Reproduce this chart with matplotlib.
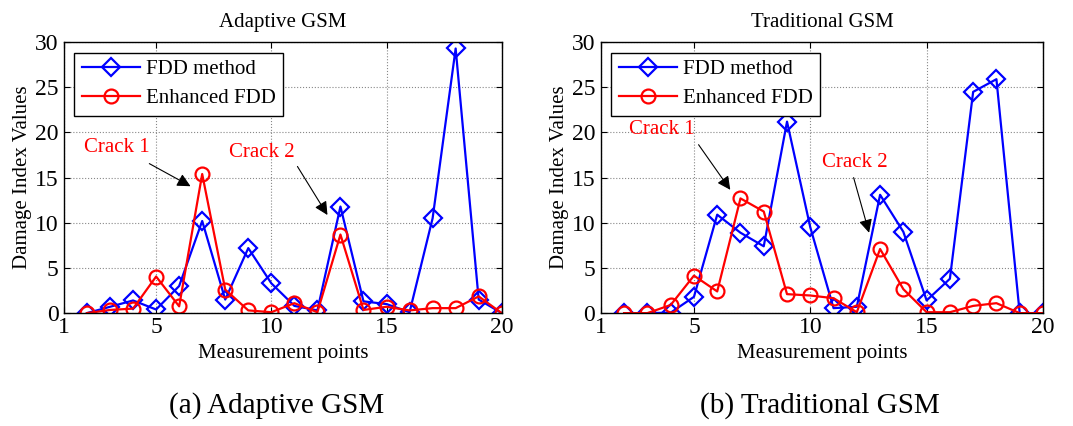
import numpy as np
import matplotlib.pyplot as plt

plt.rcParams['font.family'] = ['Liberation Serif', 'DejaVu Serif']

points = list(range(2, 21))

# Adaptive GSM
fdd_adaptive = [0, 0.7, 1.4, 0.4, 3.0, 10.2, 1.5, 7.2, 3.3, 0.8,
                0.3, 11.8, 1.3, 1.0, 0.1, 10.5, 29.3, 1.5, 0]
enh_adaptive = [0, 0.35, 0.5, 4.05, 0.75, 15.4, 2.6, 0.3, 0.1, 1.1,
                0.1, 8.7, 0.35, 0.7, 0.3, 0.55, 0.55, 1.85, 0]

# Traditional GSM
fdd_traditional = [0, 0, 0.05, 1.8, 10.9, 8.9, 7.4, 21.2, 9.5, 0.55,
                   0.7, 13.1, 9.0, 1.4, 3.8, 24.5, 25.9, 0, 0]
enh_traditional = [0, 0, 0.9, 4.15, 2.4, 12.7, 11.25, 2.1, 1.95, 1.65,
                   0.1, 7.1, 2.65, 0.1, 0.1, 0.8, 1.1, 0, 0]

titles = ['Adaptive GSM', 'Traditional GSM']
captions = ['(a) Adaptive GSM', '(b) Traditional GSM']
xticks = [1, 5, 10, 15, 20]
yticks = [0, 5, 10, 15, 20, 25, 30]

# crack annotations: (label, text pos, arrow start, arrow end)
cracks = [
    [('Crack 1', (3.3, 18.3), (4.6, 16.7), (6.6, 13.9)),
     ('Crack 2', (9.6, 17.8), (11.07, 16.5), (12.5, 10.6))],
    [('Crack 1', (3.6, 20.3), (5.13, 18.9), (6.63, 13.4)),
     ('Crack 2', (11.9, 16.7), (11.83, 15.3), (12.56, 8.6))],
]

fig = plt.figure(figsize=(10.73, 4.26), dpi=100)
axes = [fig.add_axes([0.0596, 0.265, 0.408, 0.636]),
        fig.add_axes([0.560, 0.265, 0.412, 0.636])]
caption_x = [0.258, 0.764]

data = [(fdd_adaptive, enh_adaptive), (fdd_traditional, enh_traditional)]

for i, ax in enumerate(axes):
    fdd, enh = data[i]
    ax.plot(points, fdd, color='#0000ff', lw=1.6, marker='D', ms=9,
            mfc='none', mew=1.6, label='FDD method')
    ax.plot(points, enh, color='#ff0000', lw=1.6, marker='o', ms=10,
            mfc='none', mew=1.6, label='Enhanced FDD')
    ax.set_xlim(1, 20)
    ax.set_ylim(0, 30)
    ax.set_xticks(xticks)
    ax.set_xticklabels([str(t) for t in xticks])
    ax.set_yticks(yticks)
    ax.set_yticklabels([str(t) for t in yticks])
    ax.tick_params(direction='in', top=True, right=True, labelsize=17,
                   length=4)
    ax.tick_params(axis='x', pad=3)
    ax.tick_params(axis='y', pad=4)
    ax.grid(True, linestyle=':', color='#888888', lw=0.8)
    for s in ax.spines.values():
        s.set_linewidth(1.0)
    ax.set_title(titles[i], fontsize=15, pad=11)
    ax.set_xlabel('Measurement points', fontsize=15, labelpad=4)
    ax.set_ylabel('Damage Index Values', fontsize=15, labelpad=2)
    leg = ax.legend(loc='upper left', fontsize=15, fancybox=False,
                    framealpha=1, edgecolor='k', borderaxespad=0.5,
                    handlelength=2.8, handletextpad=0.3, borderpad=0.35,
                    labelspacing=0.45)
    leg.get_frame().set_linewidth(1.0)
    for label, tpos, start, end in cracks[i]:
        ax.text(tpos[0], tpos[1], label, color='#ff0000', fontsize=15,
                ha='center', va='center')
        ax.annotate('', xy=end, xytext=start,
                    arrowprops=dict(arrowstyle='-|>', color='k', lw=0.8,
                                    mutation_scale=20))
    fig.text(caption_x[i], 0.047, captions[i], fontsize=21,
             ha='center', va='center')

fig.savefig('out.png', dpi=100)
